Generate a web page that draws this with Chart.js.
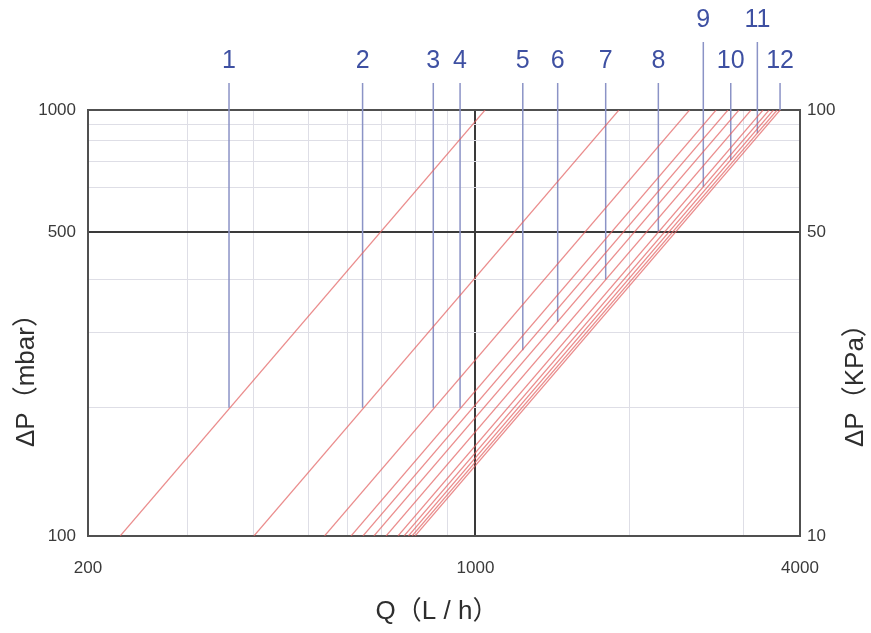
<!DOCTYPE html>
<html>
<head>
<meta charset="utf-8">
<script src="https://cdn.jsdelivr.net/npm/chart.js@4/dist/chart.umd.min.js"></script>
<style>
  html, body { margin: 0; padding: 0; background: #ffffff; }
  canvas { display: block; }
</style>
</head>
<body>
<canvas id="c" width="871" height="633"></canvas>
<script>
// ---- Data ----
const curveLabels = ['1','2','3','4','5','6','7','8','9','10','11','12'];
// Flow Q (L/h) where each curve meets ΔP = 100 mbar and ΔP = 1000 mbar
const qAt100mbar  = [229, 402, 541, 605, 636, 666, 701, 737, 756, 770, 782, 792];
const qAt1000mbar = [1063, 1867, 2513, 2810, 2954, 3094, 3256, 3424, 3512, 3577, 3633, 3679];
// Marker (label leader) lines: flow, lower ΔP end (on the curve), upper ΔP end (above frame)
const markerQ      = [362, 635, 855, 957, 1246, 1443, 1766, 2204, 2663, 2989, 3343, 3678];
const markerDpLow  = [200, 200, 200, 200, 273, 318, 400, 518, 660, 763, 882, 1000];
const markerDpHigh = [1157, 1157, 1157, 1157, 1157, 1157, 1157, 1157, 1444, 1157, 1444, 1157];

// Axis grid positions (as drawn in the reference) and tick labels
const xGridQ     = [200, 304, 401, 505, 596, 688, 792, 909, 1021, 1949, 3152, 4000];
const xTickText  = ['200', '', '', '', '', '', '', '', '1000', '', '', '4000'];
const yGridMbar  = [100, 200, 300, 400, 517, 656, 759, 846, 927, 1000];
const yTickText  = ['100', '', '', '', '500', '', '', '', '', '1000'];
const y2GridKPa  = [10, 51.7, 100];
const y2TickText = ['10', '50', '100'];
const xTitle  = 'Q（L / h）';
const yTitle  = 'ΔP（mbar）';
const y2Title = 'ΔP（KPa）';

// ---- Styles ----
const FONT = '"Liberation Sans", Arial, "Noto Sans CJK SC", sans-serif';
const RED = 'rgba(226, 96, 96, 0.72)';
const BLUE_LINE = '#8b93c6';
const BLUE_TEXT = '#3e50a2';
const GRID = '#dedee6';
const DARK = '#3a3a3a';
const FRAME = '#505050';

const datasets = [];
for (let i = 0; i < curveLabels.length; i++) {
  datasets.push({
    label: 'marker ' + curveLabels[i],
    data: [{x: markerQ[i], y: markerDpLow[i]}, {x: markerQ[i], y: markerDpHigh[i]}],
    borderColor: BLUE_LINE, borderWidth: 1.5, pointRadius: 0, clip: false,
    yAxisID: 'y', order: 2
  });
}
for (let i = 0; i < curveLabels.length; i++) {
  datasets.push({
    label: 'curve ' + curveLabels[i],
    data: [{x: qAt100mbar[i], y: 100}, {x: qAt1000mbar[i], y: 1000}],
    borderColor: RED, borderWidth: 1.2, pointRadius: 0,
    yAxisID: 'y', order: 1
  });
}

const setTicks = (vals) => (scale) => { scale.ticks = vals.map(v => ({value: v})); };
const labelFor = (vals, texts) => (value) => { const k = vals.indexOf(value); return k >= 0 ? texts[k] : ''; };

const annotations = {
  id: 'annotations',
  afterDatasetsDraw(chart) {
    const ctx = chart.ctx;
    const xs = chart.scales.x, ys = chart.scales.y;
    ctx.save();
    ctx.fillStyle = BLUE_TEXT;
    ctx.font = '25px ' + FONT;
    ctx.textAlign = 'center';
    ctx.textBaseline = 'middle';
    for (let i = 0; i < curveLabels.length; i++) {
      const px = xs.getPixelForValue(markerQ[i]);
      const py = ys.getPixelForValue(markerDpHigh[i]) - 22;
      ctx.fillText(curveLabels[i], px, py);
    }
    ctx.restore();
  },
  afterDraw(chart) {
    const ctx = chart.ctx;
    ctx.save();
    ctx.fillStyle = '#2e2e2e';
    ctx.font = '26px ' + FONT;
    ctx.textBaseline = 'middle';
    ctx.textAlign = 'center';
    ctx.fillText(xTitle, 437, 612);
    ctx.textAlign = 'left';
    ctx.save();
    ctx.translate(27, 447);
    ctx.rotate(-Math.PI / 2);
    ctx.fillText(yTitle, 0, 0);
    ctx.restore();
    ctx.save();
    ctx.translate(856, 447);
    ctx.rotate(-Math.PI / 2);
    ctx.fillText(y2Title, 0, 0);
    ctx.restore();
    ctx.restore();
  }
};

new Chart(document.getElementById('c'), {
  type: 'line',
  data: { datasets },
  plugins: [annotations],
  options: {
    responsive: false,
    animation: false,
    events: [],
    layout: { padding: { top: 110, left: 0, right: 0, bottom: 0 } },
    plugins: { legend: { display: false }, tooltip: { enabled: false }, title: { display: false } },
    scales: {
      x: {
        type: 'logarithmic', min: 200, max: 4000,
        afterBuildTicks: setTicks(xGridQ),
        afterFit: (s) => { s.height = 97; },
        ticks: { autoSkip: false, maxRotation: 0, padding: 22, color: '#3a3a3a',
                 font: { family: FONT, size: 17 }, callback: labelFor(xGridQ, xTickText) },
        grid: { drawTicks: false,
                color: (c) => (c.tick && (c.tick.value === 1021)) ? DARK : GRID,
                lineWidth: (c) => (c.tick && (c.tick.value === 1021)) ? 2 : 1 },
        border: { display: true, color: FRAME, width: 2 }
      },
      y: {
        type: 'logarithmic', position: 'left', min: 100, max: 1000,
        afterBuildTicks: setTicks(yGridMbar),
        afterFit: (s) => { s.width = 88; },
        ticks: { autoSkip: false, padding: 12, color: '#3a3a3a',
                 font: { family: FONT, size: 17 }, callback: labelFor(yGridMbar, yTickText) },
        grid: { drawTicks: false,
                color: (c) => (c.tick && (c.tick.value === 517)) ? DARK : (c.tick && c.tick.value === 1000 ? FRAME : GRID),
                lineWidth: (c) => (c.tick && (c.tick.value === 517 || c.tick.value === 1000)) ? 2 : 1 },
        border: { display: true, color: FRAME, width: 2 }
      },
      y2: {
        type: 'logarithmic', position: 'right', min: 10, max: 100,
        afterBuildTicks: setTicks(y2GridKPa),
        afterFit: (s) => { s.width = 71; },
        ticks: { autoSkip: false, padding: 7, color: '#3a3a3a',
                 font: { family: FONT, size: 17 }, callback: labelFor(y2GridKPa, y2TickText) },
        grid: { display: false, drawTicks: false },
        border: { display: true, color: FRAME, width: 2 }
      }
    }
  }
});
</script>
</body>
</html>
